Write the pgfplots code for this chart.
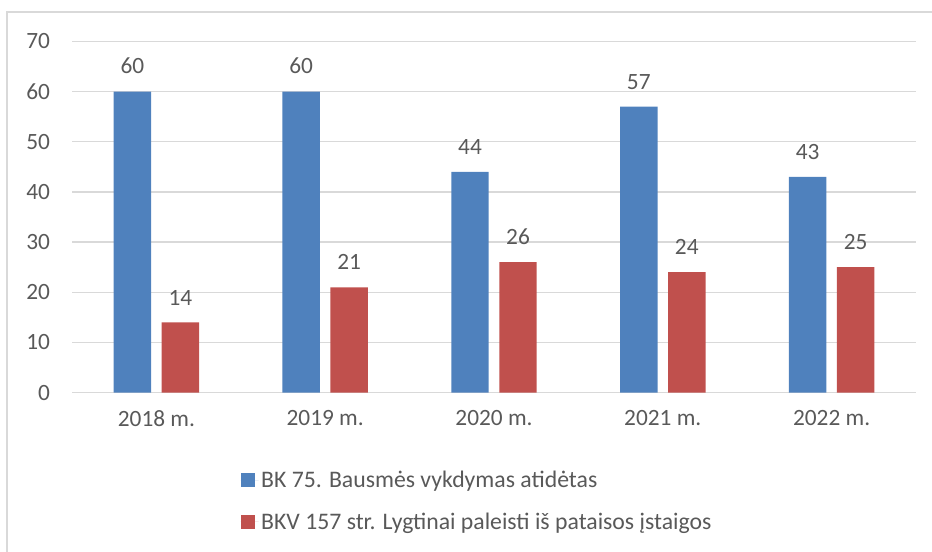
\documentclass[border=0pt]{standalone}
\usepackage{fontspec}
\setmainfont{Carlito}
\usepackage{pgfplots}
\pgfplotsset{compat=1.18}
\definecolor{txt}{HTML}{595959}
\definecolor{gridc}{HTML}{D9D9D9}
\definecolor{cblue}{HTML}{4F81BD}
\definecolor{cred}{HTML}{C0504D}
\begin{document}
\begin{tikzpicture}
\clip (0pt,0pt) rectangle (699pt,414pt);
\draw[gridc, line width=0.9pt] (5.25pt,-20pt) rectangle (720pt,405pt);
\begin{axis}[
  at={(54pt,119.5pt)}, anchor=south west,
  scale only axis, width=633pt, height=263.5pt,
  ybar, bar width=28.1pt,
  xmin=-0.5, xmax=4.5, ymin=0, ymax=70,
  ytick={0,10,...,70},
  xtick={0,1,2,3,4},
  xticklabels={2018 m.,2019 m.,2020 m.,2021 m.,2022 m.},
  axis line style={draw=none},
  major tick length=0pt,
  ymajorgrids, xmajorgrids=false,
  y grid style={draw=gridc, line width=0.9pt},
  tick label style={font=\fontsize{17.5}{21}\selectfont, text=txt},
  /pgf/number format/assume math mode=true,
  yticklabel style={xshift=-13pt},
  xticklabel style={yshift=-10pt},
  nodes near coords,
  nodes near coords style={font=\fontsize{17.5}{21}\selectfont, text=txt, yshift=9.5pt},
  legend style={draw=none, fill=none, at={(0.1994,-0.214)}, anchor=north west,
    font=\fontsize{17.8}{21}\selectfont, text=txt, row sep=13.5pt, inner sep=0pt},
  legend cell align=left,
  legend image code/.code={\fill[#1,draw=none] (0pt,-5.25pt) rectangle (10.5pt,5.25pt);
     \path (0pt,0pt) -- (13.5pt,0pt);},
]
\addplot[fill=cblue, draw=none, bar shift=-18pt] coordinates {(0,60) (1,60) (2,44) (3,57) (4,43)};
\addplot[fill=cred, draw=none, bar shift=18pt] coordinates {(0,14) (1,21) (2,26) (3,24) (4,25)};
\legend{BK 75. Bausmės vykdymas atidėtas, BKV 157 str. Lygtinai paleisti iš pataisos įstaigos}
\end{axis}
\end{tikzpicture}
\end{document}
